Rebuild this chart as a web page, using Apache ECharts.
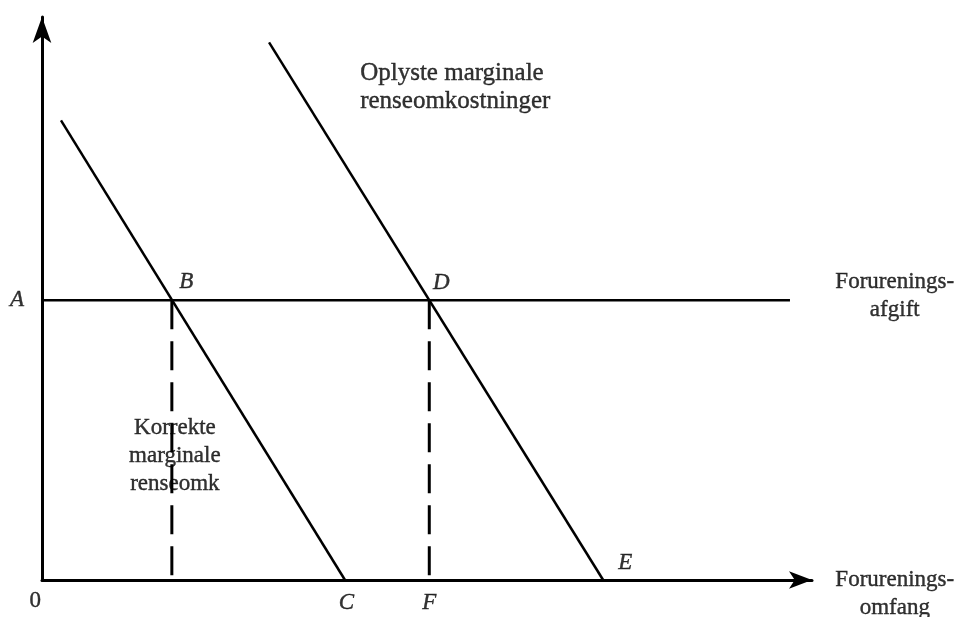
<!DOCTYPE html>
<html>
<head>
<meta charset="utf-8">
<script src="https://cdn.jsdelivr.net/npm/echarts@6/dist/echarts.min.js"></script>
<style>
  html, body { margin: 0; padding: 0; background: #fff; }
  #chart { width: 961px; height: 617px; }
</style>
</head>
<body>
<div id="chart"></div>
<script>
// afgiftsniveau (A) og kurverne, i diagrammets egne enheder
var afgift = 50.9
var korrekte = [[2.5, 83.6], [39.9, 0]]      // korrekte marginale renseomk.
var oplyste = [[29.9, 97.8], [73.9, 0]]      // oplyste marginale renseomk.
var afgiftLinje = [[0, afgift], [98.5, afgift]]
var punktB = 17.1
var punktD = 51.0
var xMax = 101.4
var yMax = 102.4

// bogstaver og tekster
var bogstaver = [
  { name: 'A', value: [-3.3, 50.9] },
  { name: 'B', value: [19.0, 54.2] },
  { name: 'D', value: [52.6, 54.0] },
  { name: 'C', value: [40.1, -4.2] },
  { name: 'F', value: [51.0, -4.2] },
  { name: 'E', value: [76.8, 3.1] }
]
var tekster = [
  { name: '0', value: [-0.9, -3.8] },
  { name: 'Oplyste marginale\nrenseomkostninger', value: [41.9, 89.5], align: 'left', size: 25 },
  { name: 'Forurenings-\nafgift', value: [112.3, 51.6] },
  { name: 'Forurenings-\nomfang', value: [112.3, -2.5] },
  { name: 'Korrekte\nmarginale\nrenseomk', value: [17.5, 22.5] }
]

var chart = echarts.init(document.getElementById('chart'))

function linje(data, dashed) {
  return {
    type: 'line',
    data: data,
    symbol: 'none',
    silent: true,
    lineStyle: {
      color: '#000',
      width: dashed ? 3 : 2.5,
      type: dashed ? [29, 12] : 'solid'
    }
  }
}

var axisCommon = {
  type: 'value',
  min: 0,
  splitLine: { show: false },
  axisTick: { show: false },
  axisLabel: { show: false }
}

var tekstStil = {
  show: true,
  position: 'inside',
  formatter: '{b}',
  color: '#000',
  textBorderColor: '#000',
  textBorderWidth: 0.4,
  fontFamily: 'Liberation Serif',
  fontSize: 23
}

chart.setOption({
  animation: false,
  backgroundColor: '#fff',
  grid: { left: 42, right: 149, top: 17, bottom: 37 },
  xAxis: Object.assign({}, axisCommon, {
    max: xMax,
    axisLine: {
      show: true,
      symbol: ['none', 'arrow'],
      symbolSize: [13, 23],
      lineStyle: { color: '#000', width: 3 }
    }
  }),
  yAxis: Object.assign({}, axisCommon, {
    max: yMax,
    axisLine: {
      show: true,
      symbol: ['none', 'arrow'],
      symbolSize: [14, 26],
      lineStyle: { color: '#000', width: 3 }
    }
  }),
  series: [
    linje(korrekte),
    linje(oplyste),
    linje(afgiftLinje),
    linje([[punktB, afgift], [punktB, 0]], true),
    linje([[punktD, afgift], [punktD, 0]], true),
    {
      type: 'scatter',
      data: bogstaver,
      symbolSize: 0,
      clip: false,
      silent: true,
      label: Object.assign({}, tekstStil, { fontStyle: 'italic' })
    },
    {
      type: 'scatter',
      data: tekster.map(function (t) {
        return {
          name: t.name,
          value: t.value,
          label: { align: t.align || 'center', fontSize: t.size || 23 }
        }
      }),
      symbolSize: 0,
      clip: false,
      silent: true,
      label: Object.assign({}, tekstStil, { lineHeight: 28 })
    }
  ]
})
</script>
</body>
</html>
